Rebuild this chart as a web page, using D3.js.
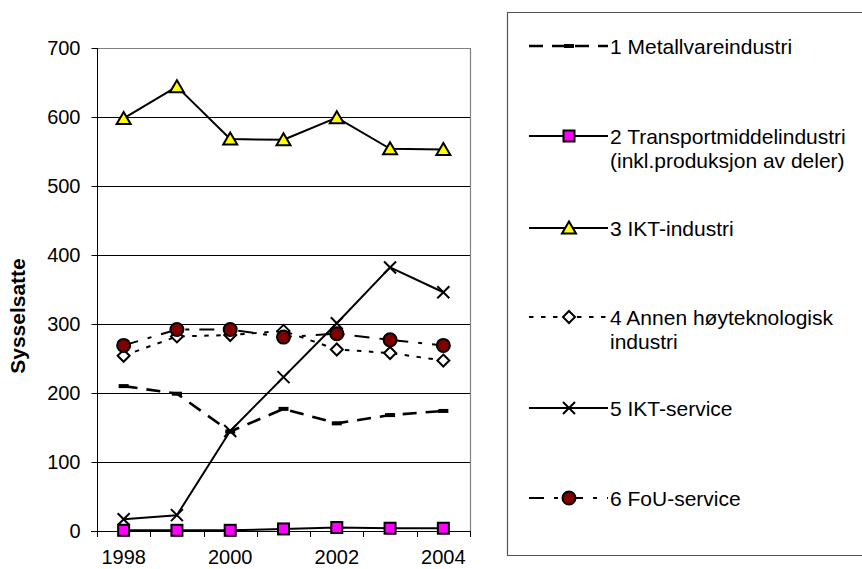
<!DOCTYPE html>
<html>
<head>
<meta charset="utf-8">
<script src="https://cdn.jsdelivr.net/npm/d3@7/dist/d3.min.js"></script>
<style>
  html, body { margin: 0; padding: 0; background: #fff; overflow: hidden; }
  svg { display: block; font-family: "Liberation Sans", Arial, sans-serif; }
</style>
</head>
<body>
<svg id="chart" width="862" height="569"></svg>
<script>
// Employment by sector, 1998–2004
const years = [1998, 1999, 2000, 2001, 2002, 2003, 2004];
const yearLabels = ["1998", "", "2000", "", "2002", "", "2004"];
const yTicks = [0, 100, 200, 300, 400, 500, 600, 700];

const metallvare = [210, 199, 144, 177, 156, 168, 174];
const transport  = [1, 1, 1, 3, 5, 4, 4];
const iktIndustri = [598, 644, 568, 567, 599, 554, 553];
const annenHoytek = [254, 282, 284, 290, 263, 258, 247];
const iktService = [17, 23, 145, 223, 301, 382, 346];
const fouService = [269, 292, 292, 281, 286, 277, 269];

const seriesNames = [
  ["1 Metallvareindustri"],
  ["2 Transportmiddelindustri", "(inkl.produksjon av deler)"],
  ["3 IKT-industri"],
  ["4 Annen høyteknologisk", "industri"],
  ["5 IKT-service"],
  ["6 FoU-service"]
];

const series = [
  { values: metallvare,  dash: "14,9",        width: 2.6, marker: "dash" },
  { values: transport,   dash: null,          width: 2,   marker: "square",   fill: "#ff00ff" },
  { values: iktIndustri, dash: null,          width: 2,   marker: "triangle", fill: "#ffff00" },
  { values: annenHoytek, dash: "4.5,7.5",     width: 2,   marker: "diamond",  fill: "#ffffff" },
  { values: iktService,  dash: null,          width: 2,   marker: "cross" },
  { values: fouService,  dash: "15,10,4,10",  width: 2,   marker: "circle",   fill: "#800000" }
];

const svg = d3.select("#chart");
const plotLeft = 97, plotRight = 470, plotTop = 48, plotBottom = 531;

const x = d3.scaleBand().domain(years).range([plotLeft, plotRight]).padding(0);
const cx = d => x(d) + x.bandwidth() / 2;
const y = d3.scaleLinear().domain([0, 700]).range([plotBottom, plotTop]);

// gridlines
svg.append("g").selectAll("line").data(yTicks.filter(v => v > 0 && v < 700)).join("line")
  .attr("x1", plotLeft).attr("x2", plotRight)
  .attr("y1", d => Math.round(y(d)) + 0.5).attr("y2", d => Math.round(y(d)) + 0.5)
  .attr("stroke", "#000").attr("stroke-width", 1);

// plot-area frame (top and right)
svg.append("path")
  .attr("d", `M${plotLeft},${plotTop + 0.5}H${plotRight + 0.5}V${plotBottom}`)
  .attr("fill", "none").attr("stroke", "#808080").attr("stroke-width", 1.2);

// y axis
const yAxis = svg.append("g").attr("transform", `translate(${plotLeft + 0.5},0)`)
  .call(d3.axisLeft(y).tickValues(yTicks).tickSize(6).tickPadding(11).tickFormat(d3.format("d")));
yAxis.select(".domain").attr("stroke", "#000").attr("d", `M0,${plotTop}V${plotBottom}`);
yAxis.selectAll(".tick line").attr("stroke", "#000");
yAxis.selectAll(".tick text").attr("font-size", 20).attr("fill", "#000")
  .attr("font-family", "Liberation Sans, Arial, sans-serif");

// x axis
svg.append("line").attr("x1", plotLeft - 6).attr("x2", plotRight)
  .attr("y1", plotBottom + 0.5).attr("y2", plotBottom + 0.5).attr("stroke", "#000");
const bounds = years.map(d => x(d)).concat([x(years[years.length - 1]) + x.bandwidth()]);
svg.append("g").selectAll("line").data(bounds).join("line")
  .attr("x1", d => Math.round(d) + 0.5).attr("x2", d => Math.round(d) + 0.5)
  .attr("y1", plotBottom).attr("y2", plotBottom + 6).attr("stroke", "#000");
svg.append("g").selectAll("text").data(years).join("text")
  .attr("x", d => cx(d)).attr("y", 564)
  .attr("text-anchor", "middle").attr("font-size", 20).attr("fill", "#000")
  .text((d, i) => yearLabels[i]);

// y-axis title
svg.append("text")
  .attr("transform", "translate(25,316) rotate(-90)")
  .attr("text-anchor", "middle").attr("font-size", 21).attr("font-weight", "bold")
  .attr("fill", "#000").text("Sysselsatte");

// marker drawing
function drawMarker(g, type, fill) {
  const sw = 2;
  if (type === "dash") {
    g.append("rect").attr("x", -5).attr("y", -2).attr("width", 10).attr("height", 4).attr("fill", "#000");
  } else if (type === "square") {
    g.append("rect").attr("x", -5.5).attr("y", -5.5).attr("width", 11).attr("height", 11)
      .attr("fill", fill).attr("stroke", "#000").attr("stroke-width", sw);
  } else if (type === "triangle") {
    g.append("path").attr("d", "M0,-6.5L7,5.5L-7,5.5Z")
      .attr("fill", fill).attr("stroke", "#000").attr("stroke-width", sw).attr("stroke-linejoin", "miter");
  } else if (type === "diamond") {
    g.append("path").attr("d", "M0,-6L6,0L0,6L-6,0Z")
      .attr("fill", fill).attr("stroke", "#000").attr("stroke-width", sw);
  } else if (type === "cross") {
    g.append("path").attr("d", "M-6,-6L6,6M-6,6L6,-6")
      .attr("fill", "none").attr("stroke", "#000").attr("stroke-width", sw);
  } else if (type === "circle") {
    g.append("circle").attr("r", 6.5)
      .attr("fill", fill).attr("stroke", "#000").attr("stroke-width", sw);
  }
}

// series lines and markers
const line = d3.line().x((d, i) => cx(years[i])).y(d => y(d));
series.forEach(s => {
  const g = svg.append("g");
  g.append("path").datum(s.values).attr("d", line)
    .attr("fill", "none").attr("stroke", "#000").attr("stroke-width", s.width)
    .attr("stroke-dasharray", s.dash).attr("stroke-linejoin", "round");
  s.values.forEach((v, i) => {
    const m = g.append("g").attr("transform", `translate(${cx(years[i])},${y(v)})`);
    drawMarker(m, s.marker, s.fill);
  });
});

// legend (box runs past the right edge)
svg.append("path")
  .attr("d", "M870,12.5H507.5V555.5H870")
  .attr("fill", "#fff").attr("stroke", "#555").attr("stroke-width", 1.2);
const legendY = [46, 136, 228, 317, 408, 498];
series.forEach((s, i) => {
  const g = svg.append("g").attr("transform", `translate(0,${legendY[i]})`);
  g.append("line").attr("x1", 529).attr("x2", 608).attr("y1", 0).attr("y2", 0)
    .attr("stroke", "#000").attr("stroke-width", s.width).attr("stroke-dasharray", s.dash);
  const m = g.append("g").attr("transform", "translate(569,0)");
  drawMarker(m, s.marker, s.fill);
  seriesNames[i].forEach((t, j) => {
    g.append("text").attr("x", 610).attr("y", 7.5 + j * 24.5)
      .attr("font-size", 21).attr("fill", "#000").text(t);
  });
});
</script>
</body>
</html>
